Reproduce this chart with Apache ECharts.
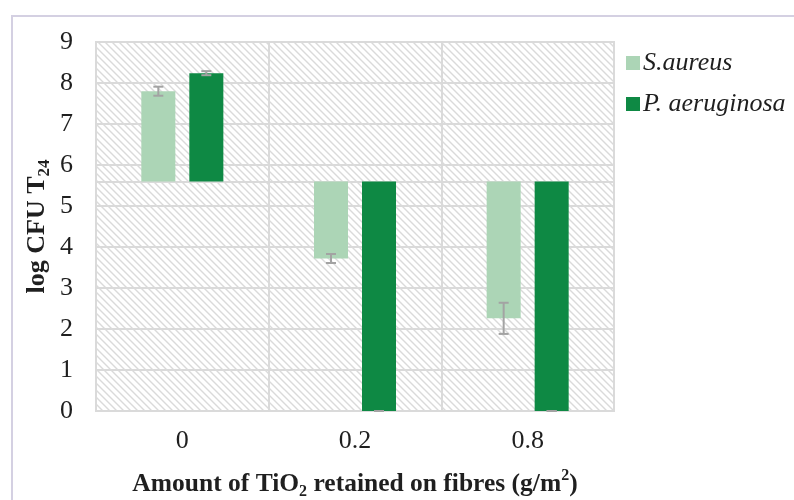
<!DOCTYPE html>
<html>
<head>
<meta charset="utf-8">
<script src="https://cdn.jsdelivr.net/npm/echarts@6/dist/echarts.min.js"></script>
<style>
  html, body { margin: 0; padding: 0; background: #ffffff; }
  #chart { width: 794px; height: 500px; }
</style>
</head>
<body>
<div id="chart"></div>
<script>
// TiO2 loading on fibres (g/m2) and bacterial counts after 24 h
const categories = ['0', '0.2', '0.8'];
const seriesNames = ['S.aureus', 'P. aeruginosa'];
const saureus = [7.80, 3.72, 2.26];
const saureusErr = [0.11, 0.11, 0.38];
const paeruginosa = [8.24, 0, 0];
const paeruginosaErr = [0.05, 0, 0];
const yTicks = [0, 1, 2, 3, 4, 5, 6, 7, 8, 9];
// bars are drawn from the initial inoculum level
const baseline = 5.6;

const colors = ['#acd5b6', '#0e8944'];
const serif = '"Liberation Serif", "Times New Roman", serif';
const ink = '#1f1f1f';

// diagonal hatch used as plot background
function hatchPattern() {
  const c = document.createElement('canvas');
  const s = 7;
  c.width = s; c.height = s;
  const g = c.getContext('2d');
  g.fillStyle = '#ffffff';
  g.fillRect(0, 0, s, s);
  g.strokeStyle = '#dadada';
  g.lineWidth = 1.4;
  g.beginPath();
  g.moveTo(-1, -1); g.lineTo(s + 1, s + 1);
  g.moveTo(-1, s - 1); g.lineTo(1, s + 1);
  g.moveTo(s - 1, -1); g.lineTo(s + 1, 1);
  g.stroke();
  return c;
}

// floating bar from the baseline to the value, plus its error bar
function makeRender(offsetFrac) {
  return function (params, api) {
    const i = api.value(0);
    const v = api.value(1);
    const e = api.value(2);
    const band = api.size([1, 0])[0];
    const w = band * 0.197;
    const centre = api.coord([i, v]);
    const cx = centre[0] + band * offsetFrac;
    const yv = centre[1];
    const yb = api.coord([i, baseline])[1];
    const yHi = api.coord([i, v + e])[1];
    const yLo = api.coord([i, v - e])[1];
    const cap = 5;
    const errStyle = { stroke: '#a3a3a3', lineWidth: 2 };
    return {
      type: 'group',
      children: [
        {
          type: 'rect',
          shape: { x: cx - w / 2, y: Math.min(yv, yb), width: w, height: Math.abs(yb - yv) },
          style: { fill: api.visual('color') }
        },
        { type: 'line', shape: { x1: cx, y1: yHi, x2: cx, y2: yLo }, style: errStyle },
        { type: 'line', shape: { x1: cx - cap, y1: yHi, x2: cx + cap, y2: yHi }, style: errStyle },
        { type: 'line', shape: { x1: cx - cap, y1: yLo, x2: cx + cap, y2: yLo }, style: errStyle }
      ]
    };
  };
}

const chart = echarts.init(document.getElementById('chart'), null, { renderer: 'canvas' });

chart.setOption({
  backgroundColor: '#ffffff',
  animation: false,
  color: colors,
  graphic: [{
    type: 'rect',
    shape: { x: 12, y: 16, width: 800, height: 500 },
    style: { fill: 'none', stroke: '#d4d0e2', lineWidth: 2 },
    silent: true,
    z: -1
  }],
  legend: {
    orient: 'vertical',
    left: 621,
    top: 45,
    itemWidth: 14,
    itemHeight: 14,
    itemGap: 15,
    icon: 'rect',
    data: seriesNames,
    textStyle: { fontFamily: serif, fontStyle: 'italic', fontSize: 26, color: ink, padding: [0, 0, 0, -2] }
  },
  grid: {
    left: 96, right: 180, top: 42, bottom: 89,
    outerBoundsMode: 'none',
    containLabel: false,
    show: true,
    backgroundColor: { image: hatchPattern(), repeat: 'repeat' },
    borderColor: '#dadada',
    borderWidth: 2
  },
  xAxis: {
    type: 'category',
    data: categories,
    boundaryGap: true,
    axisLine: { show: false },
    axisTick: { show: false },
    axisLabel: { fontFamily: serif, fontSize: 26, color: ink, margin: 17 },
    splitLine: { show: true, lineStyle: { color: '#dadada', width: 2 } },
    name: '{b|Amount of TiO}{sub|2}{b| retained on fibres (g/m}{sup|2}{b|)}',
    nameLocation: 'middle',
    nameGap: 57,
    nameMoveOverlap: false,
    nameTextStyle: {
      rich: {
        b: { fontFamily: serif, fontWeight: 'bold', fontSize: 25.5, color: ink, lineHeight: 32 },
        sub: { fontFamily: serif, fontWeight: 'bold', fontSize: 16, color: ink, lineHeight: 32, verticalAlign: 'bottom', padding: [13, 0, 0, 0] },
        sup: { fontFamily: serif, fontWeight: 'bold', fontSize: 16, color: ink, lineHeight: 32, verticalAlign: 'top', padding: [0, 0, 13, 0] }
      }
    }
  },
  yAxis: {
    type: 'value',
    min: yTicks[0],
    max: yTicks[yTicks.length - 1],
    interval: 1,
    axisLine: { show: false },
    axisTick: { show: false },
    axisLabel: { fontFamily: serif, fontSize: 26, color: ink, margin: 23 },
    splitLine: { show: true, lineStyle: { color: '#dadada', width: 2 } },
    name: '{b|log CFU T}{sub|24}',
    nameLocation: 'middle',
    nameGap: 43,
    nameMoveOverlap: false,
    nameRotate: 90,
    nameTextStyle: {
      rich: {
        b: { fontFamily: serif, fontWeight: 'bold', fontSize: 26, color: ink, lineHeight: 32 },
        sub: { fontFamily: serif, fontWeight: 'bold', fontSize: 17, color: ink, lineHeight: 32, verticalAlign: 'bottom', padding: [13, 0, 0, 0] }
      }
    }
  },
  series: [
    {
      name: seriesNames[0],
      type: 'custom',
      renderItem: makeRender(-0.139),
      encode: { x: 0, y: 1 },
      data: saureus.map((v, i) => [i, v, saureusErr[i]]),
      z: 3,
      markLine: {
        silent: true,
        symbol: 'none',
        label: { show: false },
        lineStyle: { color: '#dadada', width: 2, type: 'solid' },
        data: [{ yAxis: baseline }],
        z: 2
      }
    },
    {
      name: seriesNames[1],
      type: 'custom',
      renderItem: makeRender(0.139),
      encode: { x: 0, y: 1 },
      data: paeruginosa.map((v, i) => [i, v, paeruginosaErr[i]]),
      z: 3
    }
  ]
});
</script>
</body>
</html>
